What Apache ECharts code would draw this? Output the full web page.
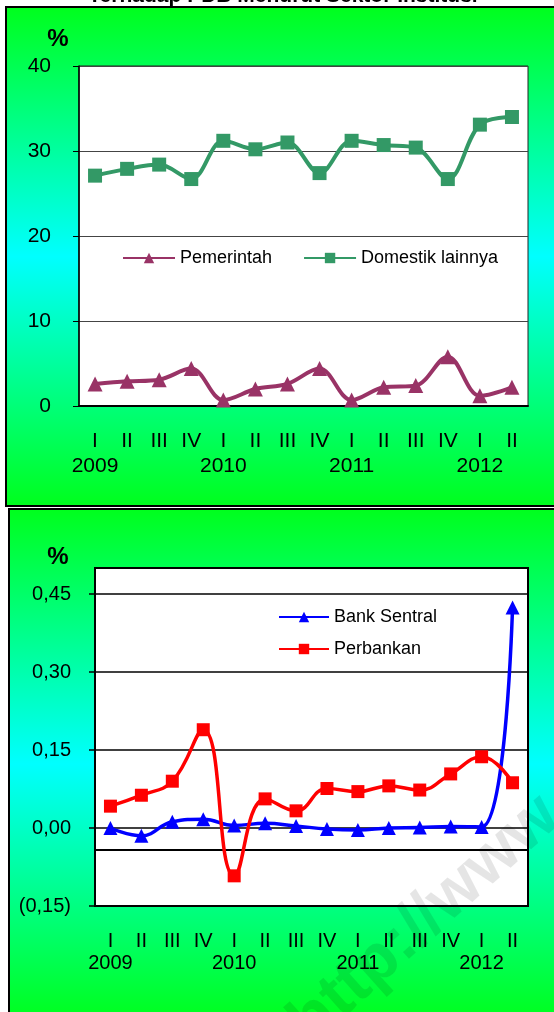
<!DOCTYPE html>
<html>
<head>
<meta charset="utf-8">
<script src="https://cdn.jsdelivr.net/npm/echarts@6/dist/echarts.min.js"></script>
<style>
  html, body { margin: 0; padding: 0; width: 554px; height: 1012px; overflow: hidden; background: #fff; }
  .panel { position: absolute; border: 2px solid #000; box-sizing: border-box;
    background: linear-gradient(to bottom, #00ff1e 0%, #00ffff 50%, #00ff1e 100%); }
  #panelTop { left: 5px; top: 6px; width: 560px; height: 501px; }
  #panelBottom { left: 8px; top: 508px; width: 560px; height: 512px; }
  #chart { position: absolute; left: 0; top: 0; width: 554px; height: 1012px; }
</style>
</head>
<body>
<div class="panel" id="panelTop"></div>
<div class="panel" id="panelBottom"></div>
<div id="chart"></div>
<script>
// kuartal & tahun
const quarters = ['I', 'II', 'III', 'IV', 'I', 'II', 'III', 'IV', 'I', 'II', 'III', 'IV', 'I', 'II'];
const years = ['2009', '2010', '2011', '2012'];

// grafik atas (%)
const pemerintah = [2.6, 2.9, 3.1, 4.4, 0.7, 2.0, 2.6, 4.4, 0.7, 2.2, 2.4, 5.8, 1.2, 2.2];
const domestikLainnya = [27.1, 27.9, 28.4, 26.7, 31.2, 30.2, 31.0, 27.4, 31.2, 30.7, 30.4, 26.7, 33.1, 34.0];
const topTicks = [0, 10, 20, 30, 40];

// grafik bawah (%)
const bankSentral = [0.000, -0.015, 0.012, 0.017, 0.005, 0.009, 0.004, -0.002, -0.004, 0.000, 0.001, 0.003, 0.002, 0.424];
const perbankan = [0.042, 0.063, 0.090, 0.189, -0.092, 0.056, 0.033, 0.076, 0.070, 0.081, 0.073, 0.104, 0.137, 0.087];
const bottomTicks = [-0.15, 0, 0.15, 0.30, 0.45];

const FONT = '"Liberation Sans", Arial, sans-serif';

function quarterLabel(v, i) {
  return i % 4 === 0 ? v + '\n' + years[i / 4] : v;
}

function pct(v) {
  const c = Math.round(v * 100);
  const s = (Math.abs(c) / 100).toFixed(2).replace('.', ',');
  return c < 0 ? '(' + s + ')' : s;
}

const chart = echarts.init(document.getElementById('chart'), null, { renderer: 'canvas' });

let option = {
  backgroundColor: 'transparent',
  animation: false,
  textStyle: { fontFamily: FONT },
  grid: [
    { left: 79, top: 66, width: 449, height: 340, show: true, backgroundColor: '#fff', borderColor: '#222', borderWidth: 1 },
    { left: 95, top: 568, width: 433, height: 338, show: true, backgroundColor: '#fff', borderColor: '#000', borderWidth: 2 }
  ],
  legend: [
    {
      data: ['Pemerintah', 'Domestik lainnya'],
      left: 117, top: 243,
      itemWidth: 52, itemHeight: 13, itemGap: 31,
      textStyle: { fontSize: 18, color: '#000', fontFamily: FONT, lineHeight: 20 }
    },
    {
      data: ['Bank Sentral', 'Perbankan'],
      orient: 'vertical',
      left: 273, top: 602,
      itemWidth: 50, itemHeight: 13, itemGap: 12,
      textStyle: { fontSize: 18, color: '#000', fontFamily: FONT, lineHeight: 20 }
    }
  ],
  xAxis: [
    {
      type: 'category', gridIndex: 0, data: quarters, position: 'bottom',
      axisLine: { lineStyle: { color: '#000', width: 2 } },
      axisTick: { alignWithLabel: true, length: 5, lineStyle: { color: '#000', width: 1.5 } },
      axisLabel: { interval: 0, margin: 23, fontSize: 21, color: '#000', lineHeight: 25, formatter: quarterLabel },
      splitLine: { show: false }
    },
    {
      type: 'category', gridIndex: 1, data: quarters, position: 'bottom',
      axisLine: { show: false },
      axisTick: { show: false },
      axisLabel: { interval: 0, margin: 24, fontSize: 20, color: '#000', lineHeight: 22, formatter: quarterLabel },
      splitLine: { show: false }
    },
    {
      // garis sumbu kategori yang memotong di bawah nol
      type: 'category', gridIndex: 1, data: quarters, position: 'bottom', offset: -56,
      axisLine: { lineStyle: { color: '#000', width: 2 } },
      axisTick: { alignWithLabel: true, length: 5, lineStyle: { color: '#000', width: 1.5 } },
      axisLabel: { show: false },
      splitLine: { show: false }
    }
  ],
  yAxis: [
    {
      type: 'value', gridIndex: 0, min: 0, max: 40, interval: 10,
      axisLine: { show: true, lineStyle: { color: '#000', width: 1.5 } },
      axisTick: { show: true, length: 6, lineStyle: { color: '#000' } },
      axisLabel: { margin: 28, fontSize: 21, color: '#000', customValues: topTicks },
      splitLine: { lineStyle: { color: '#444', width: 1 } }
    },
    {
      type: 'value', gridIndex: 1, min: -0.15, max: 0.5, interval: 0.15,
      axisLine: { show: true, lineStyle: { color: '#000', width: 2 } },
      axisTick: { show: true, length: 6, lineStyle: { color: '#000', width: 1.5 }, customValues: bottomTicks },
      axisLabel: { margin: 24, fontSize: 20, color: '#000', customValues: bottomTicks, formatter: pct },
      splitLine: { lineStyle: { color: '#000', width: 1.5 } }
    }
  ],
  series: [
    {
      name: 'Pemerintah', type: 'line', xAxisIndex: 0, yAxisIndex: 0,
      data: pemerintah, smooth: 0.35,
      symbol: 'triangle', symbolSize: 15,
      lineStyle: { color: '#993366', width: 4 },
      itemStyle: { color: '#993366' }
    },
    {
      name: 'Domestik lainnya', type: 'line', xAxisIndex: 0, yAxisIndex: 0,
      data: domestikLainnya, smooth: 0.35,
      symbol: 'rect', symbolSize: 14,
      lineStyle: { color: '#339966', width: 4 },
      itemStyle: { color: '#339966' }
    },
    {
      name: 'Bank Sentral', type: 'line', xAxisIndex: 1, yAxisIndex: 1,
      data: bankSentral, smooth: 0.45,
      symbol: 'triangle', symbolSize: 14,
      lineStyle: { color: '#0000ff', width: 3.5 },
      itemStyle: { color: '#0000ff' }
    },
    {
      name: 'Perbankan', type: 'line', xAxisIndex: 1, yAxisIndex: 1,
      data: perbankan, smooth: 0.45,
      symbol: 'rect', symbolSize: 13,
      lineStyle: { color: '#ff0000', width: 3.5 },
      itemStyle: { color: '#ff0000' }
    }
  ],
  graphic: [
    {
      type: 'text', x: 283, y: 7, z: 100,
      style: { text: 'Terhadap PDB Menurut Sektor Institusi', font: 'bold 21px ' + FONT, fill: '#000', align: 'center', verticalAlign: 'bottom' }
    },
    {
      type: 'text', x: 58, y: 39, z: 100,
      style: { text: '%', font: 'bold 24px ' + FONT, fill: '#000', align: 'center', verticalAlign: 'middle' }
    },
    {
      type: 'text', x: 58, y: 557, z: 100,
      style: { text: '%', font: 'bold 24px ' + FONT, fill: '#000', align: 'center', verticalAlign: 'middle' }
    },
    {
      type: 'text', x: 425, y: 920, rotation: 0.73, z: 100, silent: true,
      style: { text: 'http://www', font: 'bold 66px ' + FONT, fill: 'rgba(0,0,0,0.1)', align: 'center', verticalAlign: 'middle' }
    }
  ]
};

chart.setOption(option);
</script>
</body>
</html>
